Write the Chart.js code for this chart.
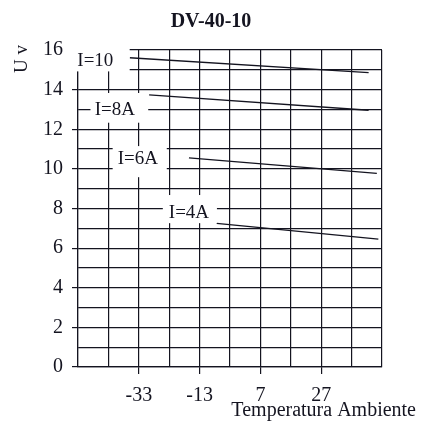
<!DOCTYPE html>
<html>
<head>
<meta charset="utf-8">
<script src="https://cdn.jsdelivr.net/npm/chart.js@4/dist/chart.umd.min.js"></script>
<style>
html,body{margin:0;padding:0;background:#fff;}
canvas{display:block;}
</style>
</head>
<body>
<canvas id="c" width="425" height="421"></canvas>
<script>
// ---- data ----
const chartTitle = 'DV-40-10';
const yAxisTitle = 'U v';
const xAxisTitle = 'Temperatura Ambiente';
const seriesLabels = ['I=10', 'I=8A', 'I=6A', 'I=4A'];
const i10Temp = [-36, 42.6];
const i10Volt = [15.61, 14.86];
const i8Temp = [-29.6, 42.6];
const i8Volt = [13.73, 12.96];
const i6Temp = [-16.5, 45.3];
const i6Volt = [10.56, 9.77];
const i4Temp = [-7.4, 45.8];
const i4Volt = [7.25, 6.45];
const xTickLabels = [-33, -13, 7, 27];
const yTickLabels = [0, 2, 4, 6, 8, 10, 12, 14, 16];
const xMin = -53, xMax = 47, xStep = 10;
const yMin = 0, yMax = 16, yStep = 1;

// ---- label boxes (annotation layout, in data units) ----
const labelBoxes = [
  {x0: -55.6, x1: -36.0, y0: 16.6, y1: 14.92, tx: -47.3, ty: 15.42},
  {x0: -48.9, x1: -29.9, y0: 13.83, y1: 12.33, tx: -40.9, ty: 12.96},
  {x0: -41.6, x1: -23.8, y0: 11.15, y1: 9.58, tx: -33.3, ty: 10.49},
  {x0: -25.1, x1: -7.3, y0: 8.68, y1: 7.26, tx: -16.5, ty: 7.77}
];

const ink = '#141420';
const serif = '"Liberation Serif", "Times New Roman", serif';

function pts(xs, ys) { return xs.map((x, i) => ({x: x, y: ys[i]})); }
const seriesData = [pts(i10Temp, i10Volt), pts(i8Temp, i8Volt), pts(i6Temp, i6Volt), pts(i4Temp, i4Volt)];

const overlay = {
  id: 'overlay',
  afterDatasetsDraw(chart) {
    const ctx = chart.ctx, xs = chart.scales.x, ys = chart.scales.y;
    ctx.save();
    labelBoxes.forEach((b, i) => {
      const l = xs.getPixelForValue(b.x0), r = xs.getPixelForValue(b.x1);
      const t = ys.getPixelForValue(b.y0), bt = ys.getPixelForValue(b.y1);
      ctx.fillStyle = '#fff';
      ctx.fillRect(l, t, r - l, bt - t);
      ctx.fillStyle = ink;
      ctx.font = '19px ' + serif;
      ctx.textAlign = 'center';
      ctx.textBaseline = 'middle';
      ctx.fillText(seriesLabels[i], xs.getPixelForValue(b.tx), ys.getPixelForValue(b.ty));
    });
    ctx.restore();
  },
  afterDraw(chart) {
    const ctx = chart.ctx;
    ctx.save();
    ctx.fillStyle = ink;
    ctx.font = 'bold 20px ' + serif;
    ctx.textAlign = 'center';
    ctx.textBaseline = 'middle';
    ctx.fillText(chartTitle, 211, 22);
    ctx.font = '20px ' + serif;
    ctx.textAlign = 'right';
    ctx.textBaseline = 'alphabetic';
    ctx.fillText(xAxisTitle, 416, 416);
    ctx.translate(22.5, 59);
    ctx.rotate(-Math.PI / 2);
    ctx.font = '19px ' + serif;
    ctx.textAlign = 'center';
    ctx.textBaseline = 'middle';
    ctx.fillText(yAxisTitle, 0, 0);
    ctx.restore();
  }
};

new Chart(document.getElementById('c'), {
  type: 'line',
  data: {
    datasets: seriesData.map((d, i) => ({
      label: seriesLabels[i],
      data: d,
      borderColor: ink,
      borderWidth: 1.3,
      pointRadius: 0,
      fill: false,
      tension: 0
    }))
  },
  options: {
    responsive: false,
    animation: false,
    events: [],
    layout: {padding: {top: 50, right: 43, left: 0, bottom: 0}},
    plugins: {legend: {display: false}, tooltip: {enabled: false}, title: {display: false}},
    scales: {
      x: {
        type: 'linear',
        min: xMin, max: xMax,
        afterBuildTicks(scale) {
          const t = [];
          for (let v = xMin; v <= xMax + 1e-9; v += xStep) t.push({value: v});
          scale.ticks = t;
        },
        afterFit(scale) { scale.height = 54; },
        grid: {
          color: ink, lineWidth: 1.2, tickLength: 7,
          tickColor: (c) => (c.tick && xTickLabels.includes(c.tick.value)) ? ink : 'rgba(0,0,0,0)'
        },
        border: {display: true, color: ink, width: 1.2},
        ticks: {
          autoSkip: false, maxRotation: 0, padding: 10,
          color: ink, font: {family: serif, size: 20},
          callback: (v) => xTickLabels.includes(v) ? String(v) : ''
        }
      },
      y: {
        type: 'linear',
        min: yMin, max: yMax,
        afterBuildTicks(scale) {
          const t = [];
          for (let v = yMin; v <= yMax + 1e-9; v += yStep) t.push({value: v});
          scale.ticks = t;
        },
        afterFit(scale) { scale.width = 78; },
        grid: {
          color: ink, lineWidth: 1.2, tickLength: 6,
          tickColor: (c) => (c.tick && yTickLabels.includes(c.tick.value)) ? ink : 'rgba(0,0,0,0)'
        },
        border: {display: true, color: ink, width: 1.2},
        ticks: {
          autoSkip: false, padding: 9,
          color: ink, font: {family: serif, size: 20},
          callback: (v) => yTickLabels.includes(v) ? String(v) : ''
        }
      }
    }
  },
  plugins: [overlay]
});
</script>
</body>
</html>
